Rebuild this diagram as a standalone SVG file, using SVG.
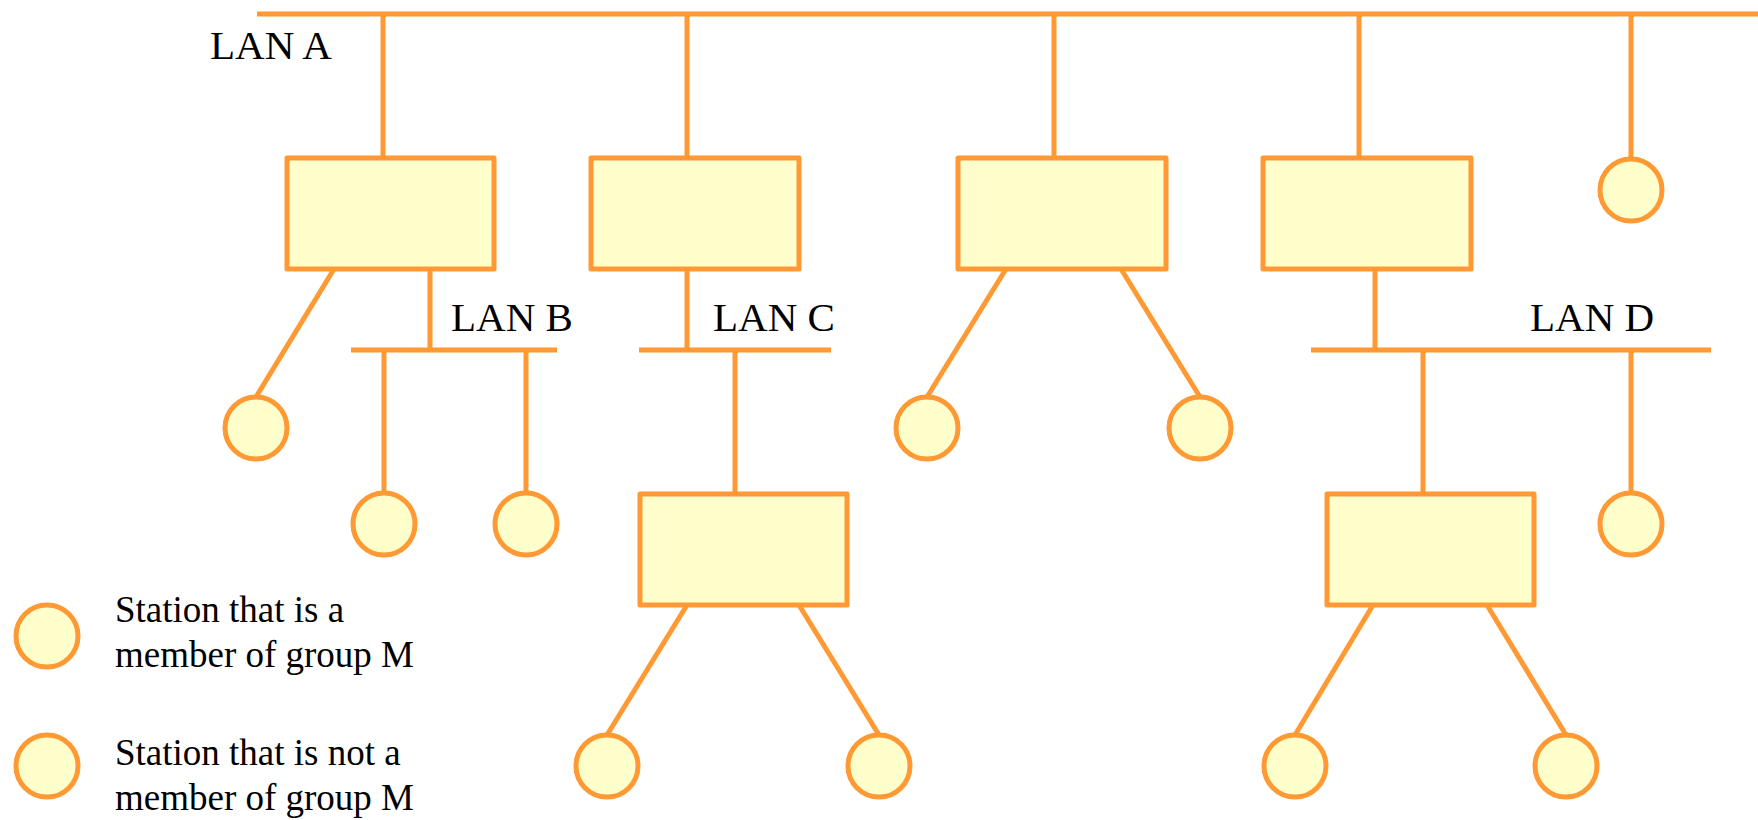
<svg xmlns="http://www.w3.org/2000/svg" width="1758" height="820" viewBox="0 0 1758 820">
<style>
.ln{stroke:#FF9933;stroke-width:5;fill:none}
.bx{fill:#FFFFCC;stroke:#FF9933;stroke-width:5;stroke-linejoin:round}
.st{fill:#FFFFCC;stroke:#FF9933;stroke-width:5}
.lb{font-family:"Liberation Serif","Times New Roman",serif;font-size:41px;fill:#000}
.lg{font-family:"Liberation Serif","Times New Roman",serif;font-size:37px;fill:#000}
</style>
<rect width="1758" height="820" fill="#fff"/>
<g id="connectors">
<line class="ln" x1="257" y1="14" x2="1758" y2="14"/>
<line class="ln" x1="383" y1="14" x2="383" y2="158"/>
<line class="ln" x1="687" y1="14" x2="687" y2="158"/>
<line class="ln" x1="1054" y1="14" x2="1054" y2="158"/>
<line class="ln" x1="1359" y1="14" x2="1359" y2="158"/>
<line class="ln" x1="1631" y1="14" x2="1631" y2="160"/>
<line class="ln" x1="351" y1="350" x2="557" y2="350"/>
<line class="ln" x1="430" y1="269" x2="430" y2="350"/>
<line class="ln" x1="384" y1="350" x2="384" y2="493"/>
<line class="ln" x1="526" y1="350" x2="526" y2="493"/>
<line class="ln" x1="334" y1="269" x2="256" y2="397"/>
<line class="ln" x1="639" y1="350" x2="831" y2="350"/>
<line class="ln" x1="687" y1="269" x2="687" y2="350"/>
<line class="ln" x1="735" y1="350" x2="735" y2="494"/>
<line class="ln" x1="687" y1="605" x2="607" y2="735"/>
<line class="ln" x1="799" y1="605" x2="879" y2="735"/>
<line class="ln" x1="1006" y1="269" x2="927" y2="397"/>
<line class="ln" x1="1121" y1="269" x2="1200" y2="397"/>
<line class="ln" x1="1311" y1="350" x2="1711" y2="350"/>
<line class="ln" x1="1375" y1="269" x2="1375" y2="350"/>
<line class="ln" x1="1423" y1="350" x2="1423" y2="494"/>
<line class="ln" x1="1631" y1="350" x2="1631" y2="493"/>
<line class="ln" x1="1373" y1="605" x2="1295" y2="735"/>
<line class="ln" x1="1487" y1="605" x2="1566" y2="735"/>
</g>
<g id="labels">
<text class="lb" x="210" y="59">LAN A</text>
<text class="lb" x="451" y="331">LAN B</text>
<text class="lb" x="713" y="331">LAN C</text>
<text class="lb" x="1530" y="331">LAN D</text>
</g>
<g id="bridge1"><rect class="bx" x="287" y="158" width="207" height="111"/></g>
<g id="bridge2"><rect class="bx" x="591" y="158" width="208" height="111"/></g>
<g id="bridge3"><rect class="bx" x="958" y="158" width="208" height="111"/></g>
<g id="bridge4"><rect class="bx" x="1263" y="158" width="208" height="111"/></g>
<g id="bridge5"><rect class="bx" x="640" y="494" width="207" height="111"/></g>
<g id="bridge6"><rect class="bx" x="1327" y="494" width="207" height="111"/></g>
<g id="stA1"><circle class="st" cx="1631" cy="190" r="31"/></g>
<g id="stB1"><circle class="st" cx="256" cy="428" r="31"/></g>
<g id="stB2"><circle class="st" cx="384" cy="524" r="31"/></g>
<g id="stB3"><circle class="st" cx="526" cy="524" r="31"/></g>
<g id="stC1"><circle class="st" cx="607" cy="766" r="31"/></g>
<g id="stC2"><circle class="st" cx="879" cy="766" r="31"/></g>
<g id="st3a"><circle class="st" cx="927" cy="428" r="31"/></g>
<g id="st3b"><circle class="st" cx="1200" cy="428" r="31"/></g>
<g id="stD1"><circle class="st" cx="1631" cy="524" r="31"/></g>
<g id="stD2"><circle class="st" cx="1295" cy="766" r="31"/></g>
<g id="stD3"><circle class="st" cx="1566" cy="766" r="31"/></g>
<g id="legend">
<circle class="st" cx="47" cy="636" r="31"/>
<text class="lg" x="115" y="622">Station that is a</text>
<text class="lg" x="115" y="667">member of group M</text>
<circle class="st" cx="47" cy="766" r="31"/>
<text class="lg" x="115" y="765">Station that is not a</text>
<text class="lg" x="115" y="810">member of group M</text>
</g>
</svg>
